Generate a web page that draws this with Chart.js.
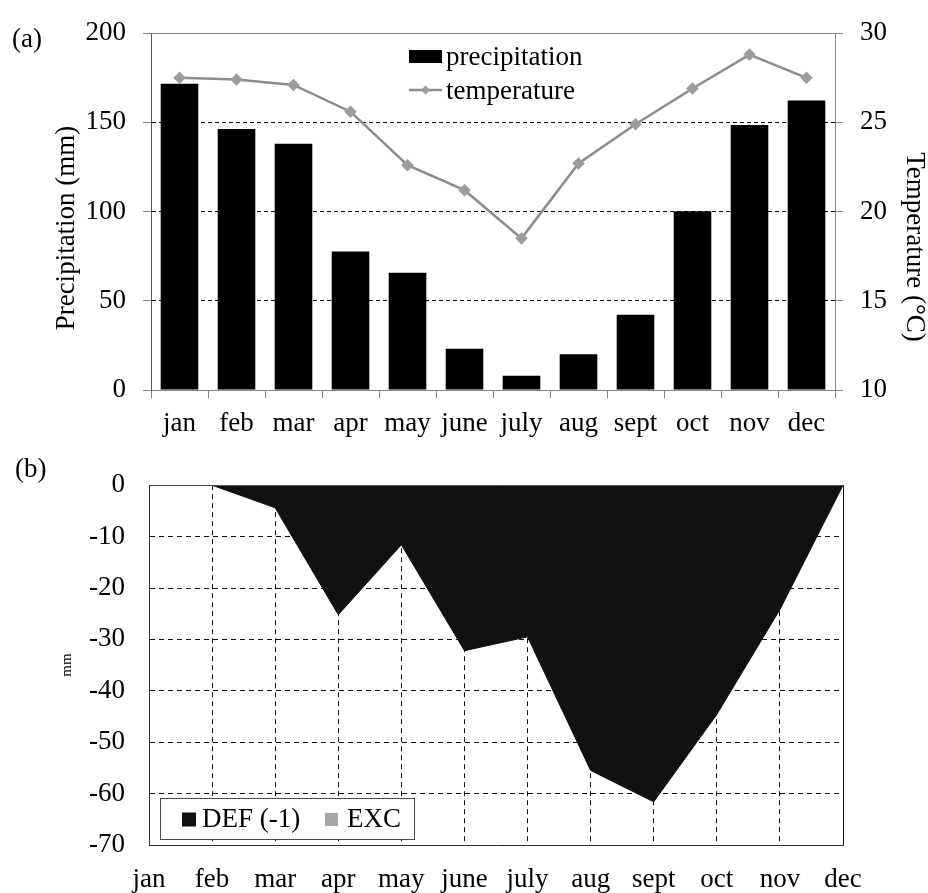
<!DOCTYPE html>
<html>
<head>
<meta charset="utf-8">
<script src="https://cdn.jsdelivr.net/npm/chart.js@4.4.1/dist/chart.umd.min.js"></script>
<style>
  html, body { margin: 0; padding: 0; background: #fff; }
  #wrap { position: relative; width: 928px; height: 893px; }
  #top { position: absolute; left: 0; top: 0; }
  #bottom { position: absolute; left: 0; top: 445px; }
</style>
</head>
<body>
<div id="wrap">
  <canvas id="top" width="928" height="445" style="width:928px;height:445px"></canvas>
  <canvas id="bottom" width="928" height="448" style="width:928px;height:448px"></canvas>
</div>
<script>
// values
const months = ['jan', 'feb', 'mar', 'apr', 'may', 'june', 'july', 'aug', 'sept', 'oct', 'nov', 'dec']
const precipitation = [171.6, 146.3, 138, 77.6, 65.7, 23.1, 8, 20, 42.2, 100.2, 148.5, 162.3]
const temperature = [27.5, 27.4, 27.1, 25.6, 22.6, 21.2, 18.5, 22.7, 24.9, 26.9, 28.8, 27.5]
const deficit = [0, 0, -4.4, -25.2, -11.6, -32.2, -29.5, -55.5, -61.6, -44.6, -24.2, 0]
const excess = [0, 0, 0, 0, 0, 0, 0, 0, 0, 0, 0, 0]

const serif = "'Liberation Serif', 'Times New Roman', serif"
const tickFont = { family: serif, size: 27 }
const axisGray = '#868686'

// free text: panel letters and the rotated axis titles
const panelText = {
  id: 'panelText',
  afterDraw(chart, args, opts) {
    const ctx = chart.ctx
    ctx.save()
    ctx.fillStyle = '#000'
    ctx.textBaseline = 'alphabetic'
    for (const item of opts.items) {
      ctx.save()
      ctx.font = `${item.size || 27}px ${serif}`
      ctx.translate(item.x, item.y)
      if (item.rotation) ctx.rotate(item.rotation * Math.PI / 180)
      ctx.textAlign = item.align || 'left'
      ctx.fillText(item.text, 0, 0)
      ctx.restore()
    }
    ctx.restore()
  }
}

// legend drawn inside the plot area, built from the datasets
const insideLegend = {
  id: 'insideLegend',
  afterDraw(chart, args, opts) {
    const ctx = chart.ctx
    ctx.save()
    if (opts.box) {
      const [bx, by, bw, bh] = opts.box
      ctx.fillStyle = '#fff'
      ctx.fillRect(bx, by, bw, bh)
      ctx.strokeStyle = '#4a4a4a'
      ctx.lineWidth = 1
      ctx.strokeRect(bx + 0.5, by + 0.5, bw, bh)
    }
    ctx.font = `27px ${serif}`
    ctx.textBaseline = 'alphabetic'
    chart.data.datasets.forEach((ds, i) => {
      const p = opts.items[i]
      if (p.marker) {
        ctx.strokeStyle = ds.borderColor
        ctx.lineWidth = ds.borderWidth
        ctx.beginPath()
        ctx.moveTo(p.x, p.midY)
        ctx.lineTo(p.x + p.w, p.midY)
        ctx.stroke()
        const cx = p.x + p.w / 2, r = 4.5
        ctx.fillStyle = ds.pointBackgroundColor
        ctx.beginPath()
        ctx.moveTo(cx, p.midY - r)
        ctx.lineTo(cx + r, p.midY)
        ctx.lineTo(cx, p.midY + r)
        ctx.lineTo(cx - r, p.midY)
        ctx.closePath()
        ctx.fill()
      } else {
        ctx.fillStyle = p.color || ds.backgroundColor
        ctx.fillRect(p.x, p.midY - p.h / 2, p.w, p.h)
      }
      ctx.fillStyle = '#000'
      ctx.fillText(ds.label, p.textX, p.baseline)
    })
    ctx.restore()
  }
}

new Chart(document.getElementById('top'), {
  data: {
    labels: months,
    datasets: [
      {
        type: 'bar', label: 'precipitation', data: precipitation, yAxisID: 'y',
        backgroundColor: '#000', barPercentage: 0.66, categoryPercentage: 1, order: 1
      },
      {
        type: 'line', label: 'temperature', data: temperature, yAxisID: 'y1',
        borderColor: '#8c8c8c', borderWidth: 2.5, tension: 0,
        pointStyle: 'rectRot', pointRadius: 4.5,
        pointBackgroundColor: '#9c9c9c', pointBorderColor: '#9c9c9c', order: 0
      }
    ]
  },
  options: {
    responsive: false,
    animation: false,
    layout: { padding: { top: 24, left: 0, right: 0, bottom: 0 } },
    plugins: {
      legend: { display: false },
      tooltip: { enabled: false },
      panelText: {
        items: [
          { text: '(a)', x: 12, y: 47 },
          { text: 'Precipitation (mm)', x: 74, y: 228, rotation: -90, align: 'center' },
          { text: 'Temperature (°C)', x: 907, y: 247, rotation: 90, align: 'center' }
        ]
      },
      insideLegend: {
        items: [
          { x: 409, w: 33, h: 13, midY: 56.5, textX: 446, baseline: 65 },
          { x: 409, w: 33, midY: 90, marker: true, textX: 446, baseline: 99 }
        ]
      }
    },
    scales: {
      x: {
        grid: { offset: true, drawOnChartArea: false, tickLength: 8, color: axisGray },
        border: { color: axisGray },
        ticks: { font: tickFont, color: '#000', padding: 10, autoSkip: false, maxRotation: 0 },
        afterFit: s => { s.height = 55 }
      },
      y: {
        position: 'left', min: 0, max: 200,
        ticks: { stepSize: 50, padding: 17, font: tickFont, color: '#000' },
        grid: {
          tickLength: 8, tickColor: axisGray, tickBorderDash: [],
          color: ctx => ctx.tick.value === 0 ? 'rgba(0,0,0,0)' : (ctx.tick.value === 200 ? axisGray : '#000')
        },
        border: {
          color: '#5a5a5a',
          dash: ctx => (ctx.tick && ctx.tick.value > 0 && ctx.tick.value < 200) ? [4, 3] : []
        },
        afterFit: s => { s.width = 151 }
      },
      y1: {
        position: 'right', min: 10, max: 30,
        ticks: { stepSize: 5, padding: 17, font: tickFont, color: '#000' },
        grid: { drawOnChartArea: false, tickLength: 8, color: axisGray },
        border: { color: axisGray },
        afterFit: s => { s.width = 93 }
      }
    }
  },
  plugins: [panelText, insideLegend]
})

new Chart(document.getElementById('bottom'), {
  type: 'line',
  data: {
    labels: months,
    datasets: [
      {
        label: 'DEF (-1)', data: deficit, fill: 'origin',
        backgroundColor: '#111', borderColor: '#111', borderWidth: 1, pointRadius: 0, tension: 0
      },
      {
        label: 'EXC', data: excess, fill: 'origin',
        backgroundColor: '#a6a6a6', borderColor: 'rgba(0,0,0,0)', borderWidth: 1, pointRadius: 0, tension: 0
      }
    ]
  },
  options: {
    responsive: false,
    animation: false,
    layout: { padding: { top: 19, left: 0, right: 85, bottom: 0 } },
    plugins: {
      legend: { display: false },
      tooltip: { enabled: false },
      panelText: { items: [{ text: '(b)', x: 15, y: 32 }] },
      insideLegend: {
        box: [160, 353, 254, 41],
        items: [
          { x: 182, w: 14, h: 14, midY: 374.5, textX: 202, baseline: 382 },
          { x: 325, w: 13, h: 13, midY: 374.5, textX: 347, baseline: 382 }
        ]
      }
    },
    scales: {
      x: {
        offset: false,
        grid: { drawTicks: false, color: ctx => ctx.index === 0 ? 'rgba(0,0,0,0)' : '#111' },
        border: { color: '#333', dash: ctx => (ctx.index > 0 && ctx.index < 11) ? [5, 4] : [] },
        ticks: { font: tickFont, color: '#000', padding: 19, autoSkip: false, maxRotation: 0 },
        afterFit: s => { s.height = 48 }
      },
      y: {
        min: -70, max: 0,
        ticks: { stepSize: 10, padding: 24, font: tickFont, color: '#000' },
        grid: {
          drawTicks: false,
          color: ctx => ctx.tick.value === 0 ? axisGray : (ctx.tick.value === -70 ? 'rgba(0,0,0,0)' : '#111')
        },
        border: {
          color: '#333',
          dash: ctx => (ctx.tick && ctx.tick.value > -70 && ctx.tick.value < 0) ? [5, 4] : []
        },
        title: { display: true, text: 'mm', color: '#000', font: { family: serif, size: 15 }, padding: { top: 58, bottom: 0 } },
        afterFit: s => { s.width = 149 }
      }
    }
  },
  plugins: [panelText, insideLegend]
})
</script>
</body>
</html>
